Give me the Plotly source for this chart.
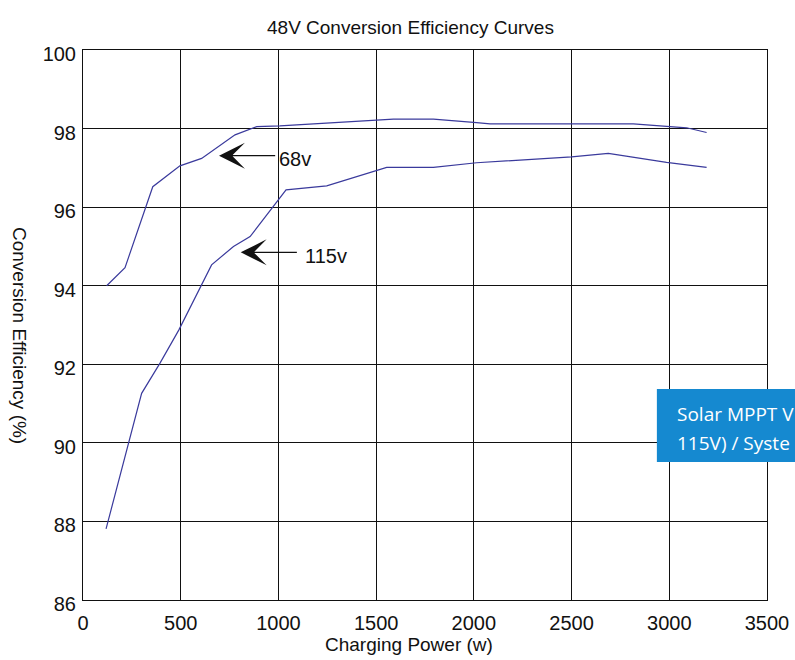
import plotly.graph_objects as go

# ---- data ----
x_68v = [121, 215, 357, 496, 607, 778, 889, 1008, 1588, 1793, 2014, 2083, 2816, 3089, 3191]
y_68v = [94.0, 94.46, 96.52, 97.05, 97.24, 97.84, 98.05, 98.07, 98.24, 98.24, 98.15, 98.12, 98.12, 98.02, 97.9]

x_115v = [118, 300, 394, 490, 658, 770, 855, 974, 1039, 1247, 1554, 1793, 2014, 2500, 2688, 2986, 3191]
y_115v = [87.81, 91.26, 92.03, 92.87, 94.53, 95.0, 95.25, 96.01, 96.44, 96.54, 97.01, 97.01, 97.13, 97.28, 97.37, 97.14, 97.01]

x_ticks = [0, 500, 1000, 1500, 2000, 2500, 3000, 3500]
y_ticks = [86, 88, 90, 92, 94, 96, 98, 100]

title_text = "48V Conversion Efficiency Curves"
x_title = "Charging Power (w)"
y_title = "Conversion Efficiency (%)"
label_68v = "68v"
label_115v = "115v"
box_lines = ["Solar MPPT V", "115V) / Syste"]

line_color = "#3a3a9c"
font_main = "Liberation Sans, Arial, sans-serif"

fig = go.Figure()
fig.add_trace(go.Scatter(x=x_68v, y=y_68v, mode="lines", name="68v",
                         line=dict(color=line_color, width=1.2)))
fig.add_trace(go.Scatter(x=x_115v, y=y_115v, mode="lines", name="115v",
                         line=dict(color=line_color, width=1.2)))

axis_common = dict(showgrid=True, gridcolor="#111111", gridwidth=1,
                   showline=True, linecolor="#111111", linewidth=1, mirror=True,
                   zeroline=False, ticks="",
                   tickfont=dict(family=font_main, size=20, color="#111111"))

fig.update_xaxes(range=[0, 3500], tickvals=x_ticks, ticklabelstandoff=5, **axis_common)
fig.update_yaxes(range=[86, 100], tickvals=y_ticks, ticklabelshift=4,
                 ticklabelstandoff=2, **axis_common)

annotations = [
    # arrows
    dict(x=696, y=97.31, ax=991, ay=97.31, xref="x", yref="y", axref="x", ayref="y",
         text="", showarrow=True, arrowhead=3, arrowsize=3.6, arrowwidth=1.2,
         arrowcolor="#111111"),
    dict(x=807, y=94.85, ax=1102, ay=94.85, xref="x", yref="y", axref="x", ayref="y",
         text="", showarrow=True, arrowhead=3, arrowsize=3.6, arrowwidth=1.2,
         arrowcolor="#111111"),
    dict(x=995, y=97.23, xref="x", yref="y", text=label_68v, showarrow=False,
         xanchor="left", yanchor="middle",
         font=dict(family=font_main, size=20, color="#111111")),
    dict(x=1125, y=94.76, xref="x", yref="y", text=label_115v, showarrow=False,
         xanchor="left", yanchor="middle",
         font=dict(family=font_main, size=20, color="#111111")),
    # titles
    dict(x=0.4795, y=1.040, xref="paper", yref="paper", text=title_text,
         showarrow=False, xanchor="center", yanchor="middle",
         font=dict(family=font_main, size=19, color="#111111")),
    dict(x=0.4766, y=-0.0818, xref="paper", yref="paper", text=x_title,
         showarrow=False, xanchor="center", yanchor="middle",
         font=dict(family=font_main, size=19, color="#111111")),
    dict(x=-0.0921, y=0.4818, xref="paper", yref="paper", text=y_title,
         showarrow=False, xanchor="center", yanchor="middle", textangle=90,
         font=dict(family=font_main, size=19, color="#111111")),
    # blue box text
    dict(x=0.8655, y=0.338, xref="paper", yref="paper", text=box_lines[0],
         showarrow=False, xanchor="left", yanchor="middle",
         font=dict(family="Open Sans, sans-serif", size=19, color="white")),
    dict(x=0.8655, y=0.2855, xref="paper", yref="paper", text=box_lines[1],
         showarrow=False, xanchor="left", yanchor="middle",
         font=dict(family="Open Sans, sans-serif", size=19, color="white")),
]

shapes = [
    dict(type="rect", xref="paper", yref="paper", x0=0.839, x1=1.06, y0=0.2509, y1=0.3836,
         fillcolor="#1589d0", line=dict(width=0), layer="above"),
]

fig.update_layout(
    width=795, height=660,
    margin=dict(l=83, r=28, t=50, b=60, autoexpand=False),
    paper_bgcolor="white", plot_bgcolor="white",
    showlegend=False,
    annotations=annotations,
    shapes=shapes,
)

# remove the default 8px body margin so the 795x660 figure fills the window
fig.write_html("out.html",
               config={"displayModeBar": False},
               post_script="document.body.style.margin='0';document.body.style.overflow='hidden';")
